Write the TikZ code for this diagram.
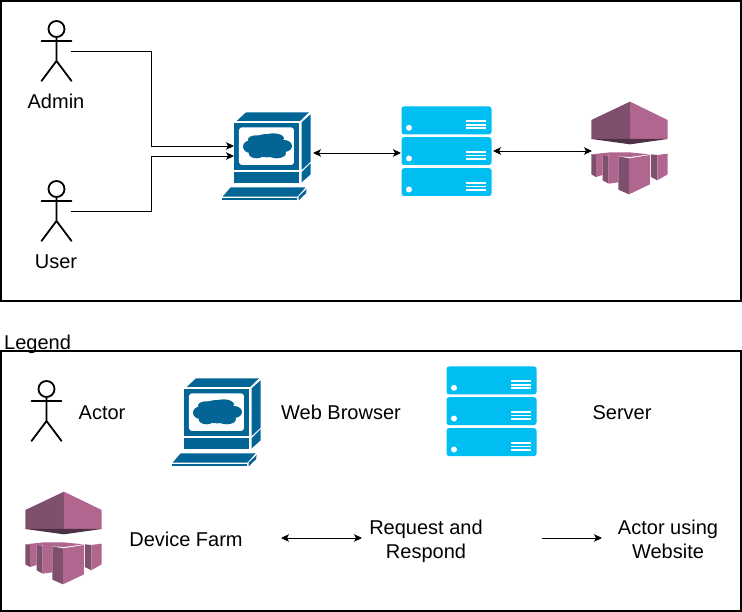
\documentclass[tikz,border=0pt]{standalone}
\usepackage{fontspec}
\setmainfont{Liberation Sans}
\usetikzlibrary{arrows.meta}
\definecolor{browserblue}{HTML}{036596}
\definecolor{serverblue}{HTML}{00BEF2}
\definecolor{farmlight}{HTML}{B0668F}
\definecolor{farmdark}{HTML}{7F4F6E}
\definecolor{farmshade}{HTML}{4E3146}
\tikzset{
  x=1pt,y=-1pt,
  frame/.style={draw=black,line width=1.8pt,fill=white},
  label/.style={font=\fontsize{20}{24}\selectfont,align=center,inner sep=0pt},
  slot/.style={inner sep=0pt,minimum width=#1,minimum height=0pt},
  wire/.style={line width=.9pt,-{Stealth[length=8pt,width=7.5pt,inset=2pt]}},
  wire2/.style={line width=.9pt,{Stealth[length=8pt,width=7.5pt,inset=2pt]}-{Stealth[length=8pt,width=7.5pt,inset=2pt]}},
  actorpic/.pic={
    \draw[line width=1.8pt,line cap=round] (0,-22) circle[radius=8]
      (0,-14) -- (0,10) (-15,-10) -- (15,-10) (-15,30) -- (0,10) -- (15,30);
  },
  browserpic/.pic={
    \begin{scope}[x=.3333pt,y=-.3333pt,fill=browserblue]
      \fill (80,78) -- (108,52) -- (297,52) -- (270,78) -- cycle;
      \fill (72,85) rectangle (268,225);
      \fill[white,rounded corners=3pt] (87,97) rectangle (252,210);
      \fill (275,82) -- (302,58) -- (302,200) -- (275,225) -- cycle;
      \fill (72,232) rectangle (268,265);
      \fill (275,232) -- (302,205) -- (302,238) -- (275,262) -- cycle;
      \fill (62,277) -- (287,277) -- (262,305) -- (38,305) -- cycle;
      \fill (36,310) -- (262,310) -- (262,316) -- (36,316) -- cycle;
      \fill (266,305) -- (290,282) -- (288,295) -- (266,316) -- cycle;
      \fill (172,152) ellipse[x radius=55,y radius=35];
      \fill (122,155) ellipse[x radius=23,y radius=19];
      \fill (222,153) ellipse[x radius=24,y radius=18];
      \fill (138,134) ellipse[x radius=24,y radius=13];
      \fill (190,130) ellipse[x radius=32,y radius=15];
      \fill (140,175) ellipse[x radius=24,y radius=15];
      \fill (200,175) ellipse[x radius=28,y radius=15];
    \end{scope}
  },
  serverunit/.pic={
    \fill[serverblue,rounded corners=2.5pt] (0,0) rectangle (90,27.8);
    \fill[white] (7.5,21.3) circle[radius=3];
    \fill[white] (64.5,13.9) rectangle (84.5,15.6);
    \fill[white] (64.5,17.4) rectangle (84.5,19.1);
    \fill[white] (64.5,20.9) rectangle (84.5,22.6);
  },
  serverpic/.pic={
    \pic at (0,0) {serverunit};
    \pic at (0,30.7) {serverunit};
    \pic at (0,61.7) {serverunit};
  },
  farmpic/.pic={
    \begin{scope}[x=.3333pt,y=-.3333pt]
      \fill[farmdark] (34,75) -- (150,20) -- (150,132) -- (34,132) -- cycle;
      \fill[farmlight] (150,20) -- (263,75) -- (263,132) -- (150,132) -- cycle;
      \fill[farmshade] (34,132) -- (263,132) -- (150,148) -- cycle;
      % rear boxes
      \fill[farmdark] (34,178) -- (48,180) -- (48,246) -- (34,238) -- cycle;
      \fill[farmlight] (48,180) -- (68,178) -- (68,240) -- (48,246) -- cycle;
      \fill[farmdark] (68,180) -- (86,182) -- (86,266) -- (68,256) -- cycle;
      \fill[farmlight] (86,182) -- (115,178) -- (115,262) -- (86,266) -- cycle;
      \fill[farmlight] (34,178) -- (90,172) -- (148,172) -- (208,178) -- (150,186) -- (115,184) -- (86,182) -- (48,180) -- cycle;
      \fill[farmdark] (213,178) -- (232,180) -- (232,256) -- (213,246) -- cycle;
      \fill[farmlight] (232,180) -- (263,176) -- (263,238) -- (232,256) -- cycle;
      % front box
      \fill[farmdark] (115,184) -- (147,190) -- (147,298) -- (115,284) -- cycle;
      \fill[farmlight] (147,190) -- (210,180) -- (210,268) -- (147,298) -- cycle;
    \end{scope}
  }
}
\begin{document}
\begin{tikzpicture}
\useasboundingbox (0,0) rectangle (742,612);
\draw[frame] (1,1) rectangle (741,301);
\draw[frame] (1,351) rectangle (741,611);

% main row
\pic at (56.5,51) {actorpic};
\pic at (56.5,211) {actorpic};
\node[slot=30] (admin) at (56,51) {};
\node[slot=30] (user) at (56,211) {};
\node[label] (adminlabel) at (56,101) {Admin};
\node[label] (userlabel) at (56,262) {User};

\pic at (210,95) {browserpic};
\pic at (401.5,106.5) {serverpic};
\pic at (580,95) {farmpic};

\coordinate (browserinA) at (234,146);
\coordinate (browserinB) at (234,156);
\coordinate (browserout) at (313,153);
\coordinate (serverinA) at (401,153);
\coordinate (serveroutA) at (493,151);
\coordinate (farmin) at (592,151);
\coordinate (elbowA) at (151,146);
\coordinate (elbowB) at (151,156);

\draw[wire] (admin.east) -| (elbowA) -- (browserinA);
\draw[wire] (user.east) -| (elbowB) -- (browserinB);
\draw[wire2] (browserout) -- (serverinA);
\draw[wire2] (serveroutA) -- (farmin);

% legend
\node[label,anchor=west] (legendtitle) at (4,344.5) {Legend};
\pic at (46.5,411) {actorpic};
\node[label] (actorlabel) at (102,413) {Actor};
\pic at (160,361) {browserpic};
\node[label] (browserlabel) at (341,412) {Web Browser};
\pic at (446.5,366.5) {serverpic};
\node[label] (serverlabel) at (622,413) {Server};
\pic at (14,485) {farmpic};
\node[label] (farmlabel) at (186,539) {Device Farm};
\coordinate (reqL) at (281,538);
\coordinate (reqR) at (362,538);
\draw[wire2] (reqL) -- (reqR);
\node[label] (reqlabel) at (426,541) {Request and\\Respond};
\coordinate (useL) at (542,538);
\coordinate (useR) at (602,538);
\draw[wire] (useL) -- (useR);
\node[label] (uselabel) at (668,539) {Actor using\\Website};
\end{tikzpicture}
\end{document}
